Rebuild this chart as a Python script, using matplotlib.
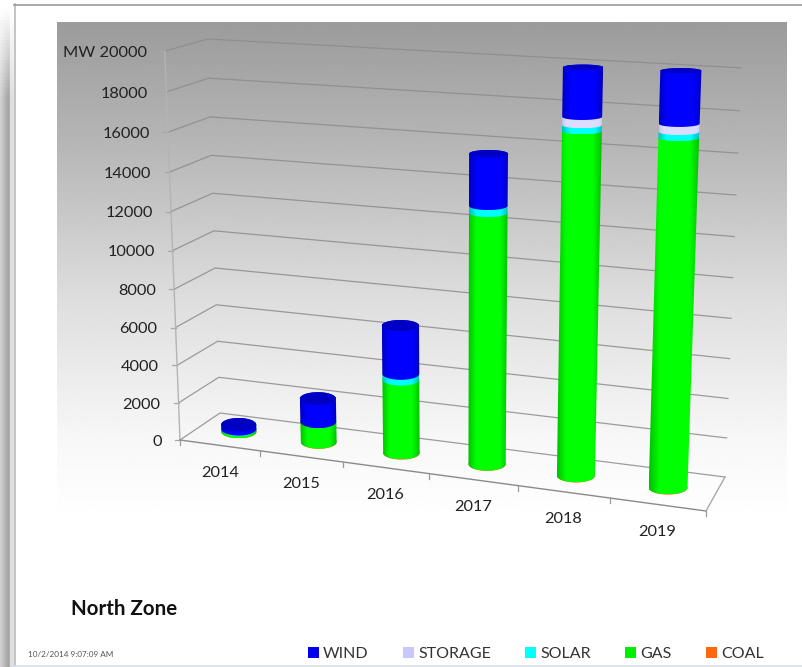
import numpy as np
import matplotlib
matplotlib.use("Agg")
import matplotlib.pyplot as plt
from matplotlib.patches import Polygon, Rectangle

# ---- data ----
years = ["2014", "2015", "2016", "2017", "2018", "2019"]
coal = [5, 10, 10, 10, 10, 10]
gas = [120, 1090, 3850, 12730, 17000, 16986]
solar = [25, 0, 300, 340, 285, 278]
storage = [0, 0, 0, 0, 385, 371]
wind = [225, 1235, 2500, 2540, 2320, 2445]
y_ticks = [0, 2000, 4000, 6000, 8000, 10000, 12000, 14000, 16000, 18000, 20000]
y_max = 20000
legend_labels = ["WIND", "STORAGE", "SOLAR", "GAS", "COAL"]

# ---- styles / scene geometry ----
plt.rcParams["font.family"] = ["Lato", "DejaVu Sans"]
C_COAL, C_GAS, C_SOLAR, C_STORAGE, C_WIND = "#ff6a10", "#00ff00", "#00ffff", "#dcdcff", "#0000ff"
legend_colors = ["#0000f0", "#c8c8ff", "#00ffff", "#00f000", "#ff6610"]
FL, FR, BL, BR = np.array([180., 440.]), np.array([706., 511.]), np.array([220., 413.]), np.array([725., 477.])
TXT = "#222222"


def persp(s, k=0.114):
    return s / (1 + k * (1 - s))


def project(s, d, v, dx=0.0):
    """Category position s (0-1), depth d (0 front, 1 back), value v -> canvas position."""
    t = persp(s)
    front = FL + (FR - FL) * t
    back = BL + (BR - BL) * t
    p = front + (back - front) * d
    h = persp(v / y_max, 0.053) * (374 + 0.55 * (p[1] - 413))
    x = p[0] + dx
    return np.array([x + h * (x - 454) / 7000, p[1] - h]), h


fig = plt.figure(figsize=(8.02, 6.67), dpi=100)
ax = fig.add_axes([0, 0, 1, 1])
ax.set_xlim(0, 802)
ax.set_ylim(667, 0)
ax.axis("off")

# panel gradient
gy = np.linspace(22, 522, 300)
shade = np.interp(gy, [22, 150, 300, 440, 522], [0.61, 0.72, 0.87, 0.97, 1.0])
ax.imshow(shade[:, None], extent=[57, 787, 522, 22], cmap="gray", vmin=0, vmax=1, aspect="auto", zorder=0)

# left shadow strip
xs = np.linspace(0, 1, 14)
ysh = np.linspace(0, 667, 200)
fade = np.clip((ysh - 6) / 90, 0, 1)
strip = np.interp(xs, [0, 0.68, 0.72, 1], [0.82, 0.62, 0.86, 0.88])
img = 1 - np.outer(fade, 1 - strip)
ax.imshow(img, extent=[0, 14, 667, 0], cmap="gray", vmin=0, vmax=1, aspect="auto", zorder=0)
ax.plot([14.5, 14.5], [4, 666], color="#c4c4c4", lw=1.4, zorder=1)
ax.plot([14, 802], [4.5, 4.5], color="#9a9a9a", lw=1.2, zorder=1)
ax.plot([14, 802], [666, 666], color="#d4dfe8", lw=1.2, zorder=1)

# gridlines on the walls
for v in y_ticks:
    a, _ = project(0, 0, v)
    b, _ = project(0, 1, v)
    c, _ = project(1, 1, v)
    ax.plot([a[0] - 5, a[0]], [a[1], a[1]], color="#a8a8a8", lw=0.9, zorder=2)
    ax.plot([a[0], b[0], c[0]], [a[1], b[1], c[1]], color="#8c8c8c", lw=0.9, alpha=0.85, zorder=2)
    label = ("MW " if v == y_max else "") + str(v)
    ax.text(a[0] - 18, a[1] + 1.8, label, ha="right", va="center", fontsize=11.8, color=TXT, zorder=6)

# vertical axis and floor
a0, _ = project(0, 0, 0)
a1, _ = project(0, 0, y_max)
ax.plot([a0[0], a1[0]], [a0[1], a1[1]], color="#b4b4b4", lw=1.0, zorder=2)
ax.plot([FL[0], FR[0]], [FL[1], FR[1]], color="#8a8a8a", lw=1.0, zorder=2)
ax.plot([FR[0], BR[0]], [FR[1], BR[1]], color="#a8a8a8", lw=1.0, zorder=2)

# category ticks and labels
for i in range(len(years) + 1):
    p, _ = project(i / len(years), 0, 0)
    ax.plot([p[0], p[0]], [p[1], p[1] + 5], color="#9a9a9a", lw=0.9, zorder=2)
for i, yr in enumerate(years):
    p, _ = project((i + 0.5) / len(years), 0, 0)
    ax.text(p[0], p[1] + 27.5, yr, ha="center", va="center", fontsize=11.8, color=TXT, zorder=6)


def arc(s, v, r, lower=True):
    """Half-ellipse of the cylinder at height v, left to right when lower is True."""
    c, h = project(s, 0.5, v)
    rx = r * (1 + h / 7000)
    b = 6.8 - 4.2 * h / 417
    th = np.linspace(0, np.pi, 30)
    if lower:
        return np.column_stack([c[0] - rx * np.cos(th), c[1] + b * np.sin(th)])
    return np.column_stack([c[0] + rx * np.cos(th), c[1] - b * np.sin(th)])


def body(s, v0, v1, r, color, z):
    verts = np.vstack([arc(s, v0, r, True), arc(s, v1, r, False)])
    poly = Polygon(verts, closed=True, fc="none", ec="none", zorder=z)
    ax.add_patch(poly)
    x0, x1 = verts[:, 0].min(), verts[:, 0].max()
    y0, y1 = verts[:, 1].min(), verts[:, 1].max()
    f = np.abs(np.linspace(-1, 1, 64))
    rgb = np.array(matplotlib.colors.to_rgb(color))
    if rgb.min() > 0.5:
        k = np.interp(f, [0, 0.8, 1], [1, 1, 0.9])
    else:
        k = np.interp(f, [0, 0.6, 1], [1, 1, 0.76])
    im = rgb[None, None, :] * k[None, :, None]
    art = ax.imshow(im, extent=[x0, x1, y1, y0], aspect="auto", zorder=z, interpolation="bilinear")
    art.set_clip_path(poly)


stack = [(coal, C_COAL), (gas, C_GAS), (solar, C_SOLAR), (storage, C_STORAGE), (wind, C_WIND)]
for i in range(len(years)):
    s = (i + 0.5) / len(years)
    r = 17.4 + 2.2 * persp(s)
    base = 0.0
    z = 3 + i * 0.01
    for vals, col in stack:
        if vals[i] <= 0:
            continue
        body(s, base, base + vals[i], r, col, z)
        base += vals[i]
        z += 0.001
    cap = np.vstack([arc(s, base, r, True), arc(s, base, r, False)])
    ax.add_patch(Polygon(cap, closed=True, fc="#0000c4", ec="none", zorder=z))

ax.set_xlim(0, 802)
ax.set_ylim(667, 0)

# titles
ax.text(71, 609, "North Zone", fontsize=14.8, fontweight="bold", color="#111111", ha="left", va="center", zorder=6)
ax.text(28, 654.5, "10/2/2014 9:07:09 AM", fontsize=5.9, color="#555555", ha="left", va="center", zorder=6)

# legend
sq_x = [308, 403, 525, 625, 706]
for x, lab, col in zip(sq_x, legend_labels, legend_colors):
    ax.add_patch(Rectangle((x, 647), 10.5, 11, fc=col, ec="none", zorder=6))
    ax.text(x + 15, 653.5, lab, fontsize=11.5, color="#333333", ha="left", va="center", zorder=6)

fig.savefig("out.png", dpi=100)
